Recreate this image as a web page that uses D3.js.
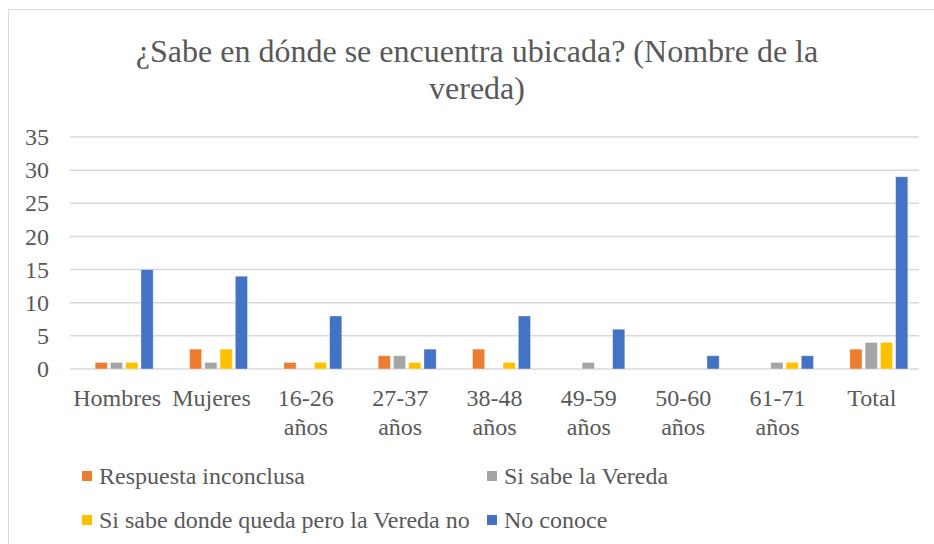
<!DOCTYPE html>
<html>
<head>
<meta charset="utf-8">
<script src="https://cdn.jsdelivr.net/npm/d3@7"></script>
<style>
  body { margin: 0; background: #fff; }
  svg { font-family: "Liberation Serif", "Times New Roman", serif; }
</style>
</head>
<body>
<svg width="934" height="544"></svg>
<script>
// categories and series
var categories = ["Hombres", "Mujeres", "16-26 años", "27-37 años", "38-48 años",
  "49-59 años", "50-60 años", "61-71 años", "Total"];
var seriesNames = ["Respuesta inconclusa", "Si sabe la Vereda",
  "Si sabe donde queda pero la Vereda no", "No conoce"];
var inconclusa = [1, 3, 1, 2, 3, 0, 0, 0, 3];
var siSabe     = [1, 1, 0, 2, 0, 1, 0, 1, 4];
var sabeDonde  = [1, 3, 1, 1, 1, 0, 0, 1, 4];
var noConoce   = [15, 14, 8, 3, 8, 6, 2, 2, 29];
var yTicks = [0, 5, 10, 15, 20, 25, 30, 35];

var colors = ["#ED7D31", "#A5A5A5", "#FFC000", "#4472C4"];
var values = [inconclusa, siSabe, sabeDonde, noConoce];

var data = categories.map(function (c, i) {
  return { name: c, vals: values.map(function (s) { return s[i]; }) };
});

var svg = d3.select("svg");

// chart frame (only top/left visible in the reference)
svg.append("rect")
  .attr("x", 8.5).attr("y", 9.5)
  .attr("width", 960).attr("height", 560)
  .attr("fill", "none").attr("stroke", "#d9d9d9");

// title
var title = svg.append("text")
  .attr("text-anchor", "middle")
  .attr("fill", "#595959")
  .attr("font-size", 32);
title.append("tspan").attr("x", 477).attr("y", 62)
  .text("¿Sabe en dónde se encuentra ubicada? (Nombre de la");
title.append("tspan").attr("x", 477).attr("y", 99)
  .text("vereda)");

var plotL = 70, plotR = 919, plotT = 137, plotB = 369;

var x = d3.scaleBand().domain(categories).range([plotL, plotR]);
var y = d3.scaleLinear().domain([0, 35]).range([plotB, plotT]);
var x1 = d3.scaleBand().domain(d3.range(4))
  .range([0, 58]).paddingInner(0.2);

// gridlines
svg.append("g")
  .selectAll("line")
  .data(yTicks)
  .enter().append("line")
    .attr("x1", plotL).attr("x2", plotR)
    .attr("y1", function (d) { return y(d); })
    .attr("y2", function (d) { return y(d); })
    .attr("stroke", "#d9d9d9")
    .attr("stroke-width", 1.5);

// y axis labels
svg.append("g")
  .attr("font-size", 24)
  .attr("fill", "#595959")
  .attr("text-anchor", "end")
  .selectAll("text")
  .data(yTicks)
  .enter().append("text")
    .attr("x", 49)
    .attr("y", function (d) { return y(d); })
    .attr("dy", "0.34em")
    .text(function (d) { return d; });

// bars, one group per category (cluster sits a little right of centre, as in Excel)
var groups = svg.append("g")
  .selectAll("g")
  .data(data)
  .enter().append("g")
    .attr("transform", function (d) {
      return "translate(" + (x(d.name) + x.bandwidth() / 2 - 22) + ",0)";
    });

groups.each(function (d) {
  var g = d3.select(this);
  d.vals.forEach(function (v, i) {
    if (v <= 0) return;
    g.append("rect")
      .attr("x", x1(i))
      .attr("y", y(v))
      .attr("width", x1.bandwidth())
      .attr("height", plotB - y(v))
      .attr("fill", colors[i])
      .attr("stroke", "#fff")
      .attr("stroke-opacity", 0.5)
      .attr("stroke-width", 0.75);
  });
});

// x axis labels
var xl = svg.append("g")
  .attr("font-size", 24)
  .attr("fill", "#595959")
  .attr("text-anchor", "middle")
  .selectAll("text")
  .data(categories)
  .enter().append("text");
xl.each(function (d) {
  var t = d3.select(this);
  var cx = x(d) + x.bandwidth() / 2;
  d.split(" ").forEach(function (p, i) {
    t.append("tspan").attr("x", cx).attr("y", 406 + i * 29).text(p);
  });
});

// legend
var legendPos = [[82, 476], [487, 476], [82, 520], [487, 520]];
var legend = svg.append("g")
  .attr("font-size", 24)
  .attr("fill", "#595959")
  .selectAll("g")
  .data(seriesNames)
  .enter().append("g")
    .attr("transform", function (d, i) {
      return "translate(" + legendPos[i][0] + "," + legendPos[i][1] + ")";
    });
legend.append("rect")
  .attr("x", 0).attr("y", -5)
  .attr("width", 10).attr("height", 10)
  .attr("fill", function (d, i) { return colors[i]; });
legend.append("text")
  .attr("x", 17)
  .attr("dy", "0.34em")
  .text(function (d) { return d; });
</script>
</body>
</html>
